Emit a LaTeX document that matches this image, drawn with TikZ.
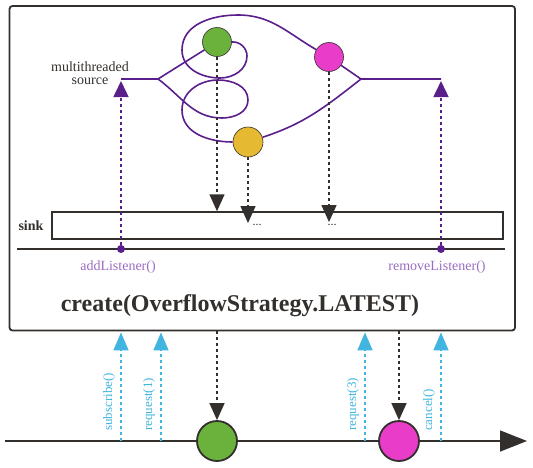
\documentclass[tikz,border=0pt]{standalone}
\usepackage{fontspec}
\setmainfont{Liberation Serif}
\usepackage{tikz}
\usetikzlibrary{arrows.meta}
\definecolor{ink}{HTML}{332F2C}
\definecolor{srcpurple}{HTML}{5B1F8C}
\definecolor{lblpurple}{HTML}{9A6CC2}
\definecolor{reqblue}{HTML}{41B5E0}
\definecolor{mgreen}{HTML}{6BB23C}
\definecolor{mpink}{HTML}{E83CC9}
\definecolor{myellow}{HTML}{E6B932}

\begin{document}
\begin{tikzpicture}[x=1pt, y=-1pt,
    marble/.style={circle, draw=ink, line width=0.6pt, inner sep=0pt, minimum size=29pt},
    bigmarble/.style={circle, draw=ink, line width=1.8pt, inner sep=0pt, minimum size=40pt},
    thread/.style={srcpurple, line width=1.6pt},
    emit/.style={ink, line width=1.5pt, dash pattern=on 3pt off 3pt, -{Triangle[width=15pt,length=17pt]}},
    listen/.style={srcpurple, line width=1.5pt, dash pattern=on 3pt off 3pt, -{Triangle[width=15pt,length=16pt]}, shorten >=2pt},
    req/.style={reqblue, line width=1.5pt, dash pattern=on 3pt off 3pt, -{Triangle[width=15pt,length=18pt]}, shorten >=1pt},
    txt/.style={font=\fontsize{14}{14}\selectfont}]
    \useasboundingbox (0,0) rectangle (533,467);

    \node[draw=ink, line width=1.8pt, rounded corners=3pt, inner sep=0pt,
          minimum width=505.5pt, minimum height=324.5pt] (op) at (262.25,168.25) {};

    \coordinate (srcL) at (121,79);
    \coordinate (fork1) at (158,79);
    \coordinate (fork2) at (361,79);
    \coordinate (srcR) at (441,79);

    \node[marble, fill=mgreen] (g) at (217,42) {};
    \node[marble, fill=mpink] (m) at (329,57) {};
    \node[marble, fill=myellow, minimum size=30pt] (y) at (248,142) {};

    \draw[thread] (srcL) -- (fork1) -- (g);
    \draw[thread] (g.east) to[out=5,in=90] (247,56) to[out=-90,in=0] (220,78)
      to[out=180,in=-90] (182,50) to[out=90,in=180] (238,15) to[out=0,in=150] (m);
    \draw[thread] (m) -- (fork2) -- (srcR);
    \draw[thread] (fork1) to[out=-36,in=180] (222,118) to[out=0,in=-90] (248,100)
      to[out=90,in=0] (218,80) to[out=180,in=90] (182,110) to[out=-90,in=180] (y.west);
    \draw[thread] (y) to[out=18,in=-142] (fork2);

    \node[ink, align=center, inner sep=0pt, font=\fontsize{14}{12.5}\selectfont] (srclbl) at (90,73) {multithreaded\\source};

    \node[draw=ink, line width=1.5pt, inner sep=0pt,
          minimum width=451pt, minimum height=27pt] (sink) at (277.5,225.5) {};
    \node[ink, font=\bfseries\fontsize{14}{14}\selectfont] (sinklbl) at (31,226) {sink};
    \draw[ink, line width=1.5pt] (17,249) -- (505,249);

    \coordinate (hitY) at (248,223);
    \coordinate (hitM) at (329,222);
    \node[ink, font=\fontsize{12}{12}\selectfont] (moreY) at (257,225) {...};
    \node[ink, font=\fontsize{12}{12}\selectfont] (moreM) at (332,225) {...};
    \draw[emit] (g) -- (sink.north -| g);
    \draw[emit] (y) -- (hitY);
    \draw[emit] (m) -- (hitM);

    \node[circle, fill=srcpurple, inner sep=0pt, minimum size=8pt] (add) at (121,249) {};
    \node[circle, fill=srcpurple, inner sep=0pt, minimum size=8pt] (rem) at (441,249) {};
    \draw[listen] (add) -- (srcL);
    \draw[listen] (rem) -- (srcR);
    \node[txt, lblpurple] (addlbl) at (118,267) {addListener()};
    \node[txt, lblpurple] (remlbl) at (437,267) {removeListener()};

    \node[ink, font=\bfseries\fontsize{24}{24}\selectfont] (title) at (240,306) {create(OverflowStrategy.LATEST)};

    \coordinate (t0) at (5,441);
    \coordinate (t1) at (527,441);
    \draw[ink, line width=1.5pt, -{Triangle[width=21pt,length=27pt]}] (t0) -- (t1);

    \node[bigmarble, fill=mgreen] (gb) at (217,441) {};
    \node[bigmarble, fill=mpink] (mb) at (399,441) {};
    \draw[emit] (op.south -| gb) -- (gb);
    \draw[emit] (op.south -| mb) -- (mb);

    \foreach \x/\lx/\name in {121/109/subscribe(), 161/149/request(1), 365/353/request(3), 441/429/cancel()} {
      \draw[req] (t0 -| \x,0) -- (op.south -| \x,0);
      \node[reqblue, font=\fontsize{13}{13}\selectfont, rotate=90, anchor=west, inner sep=0pt] (lbl\x) at (\lx,431) {\name};
    }
\end{tikzpicture}
\end{document}
